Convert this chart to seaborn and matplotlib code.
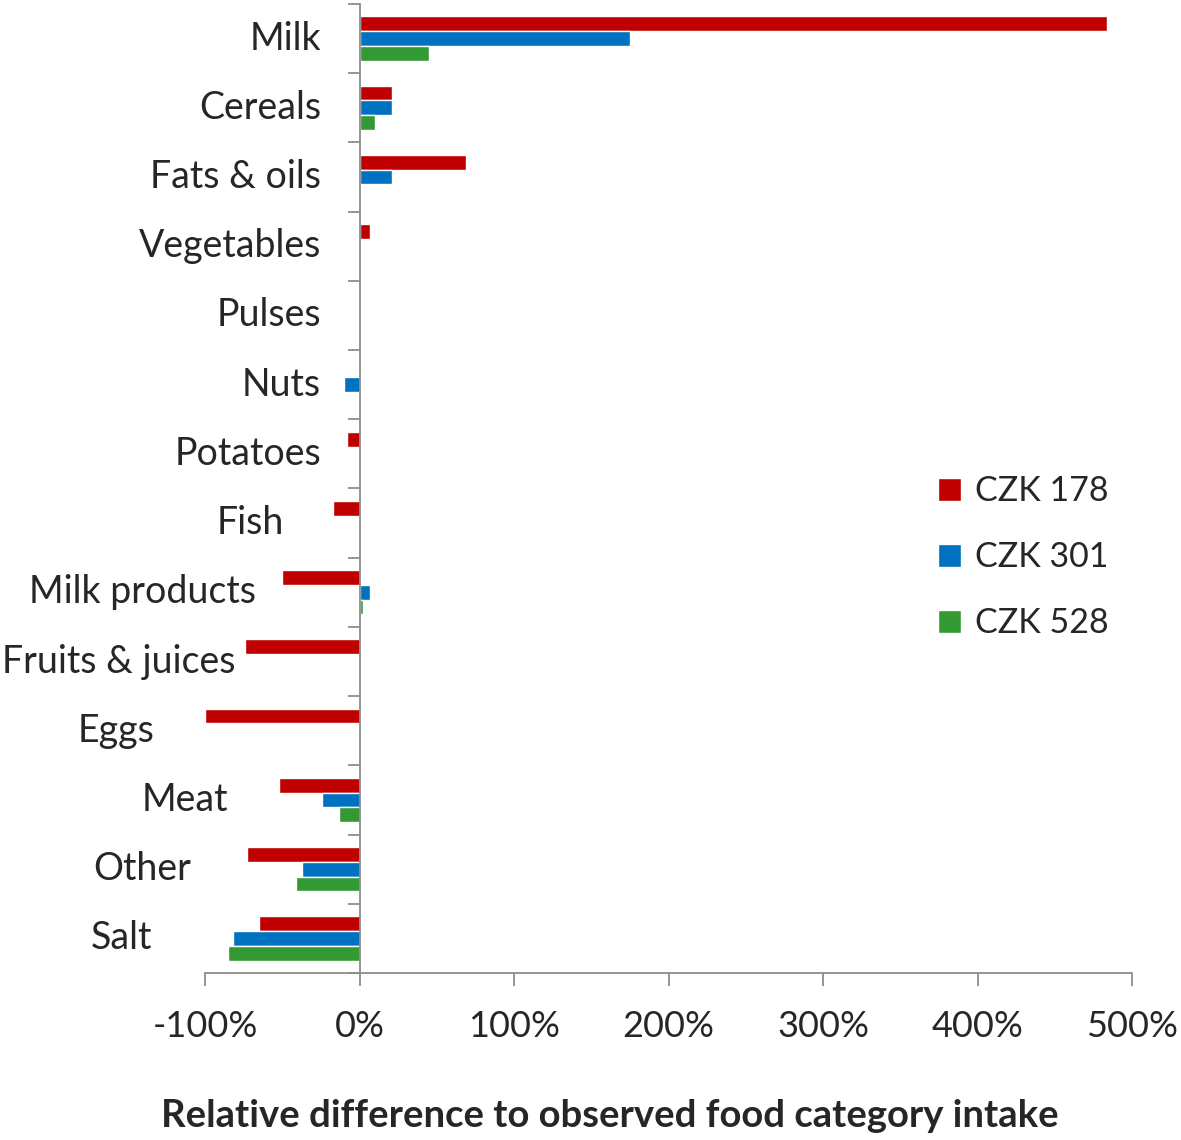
import pandas as pd
import matplotlib.pyplot as plt
import seaborn as sns
from matplotlib.ticker import FixedLocator, FuncFormatter


categories = [
    "Milk", "Cereals", "Fats & oils", "Vegetables", "Pulses", "Nuts",
    "Potatoes", "Fish", "Milk products", "Fruits & juices", "Eggs",
    "Meat", "Other", "Salt"
]

series_names = ["CZK 178", "CZK 301", "CZK 528"]

# relative difference, in percent
czk178 = [484, 21, 69, 7, 0, 0, -8, -17, -50, -74, -100, -52, -73, -65]
czk301 = [175, 21, 21, 0, 0, -10, 0, 0, 7, 0, 0, -24, -37, -82]
czk528 = [45, 10, 0, 0, 0, 0, 0, 0, 2, 0, 0, -13, -41, -85]

colors = ["#C00000", "#0070C0", "#339933"]

# where the right edge of each category label sits (data units, %)
label_x = [-25, -25, -25, -25, -25, -25, -25, -49, -67, -80, -133, -85, -109, -134]


df = pd.DataFrame({
    "category": categories * 3,
    "series": [s for s in series_names for _ in categories],
    "value": czk178 + czk301 + czk528,
})

sns.set_style("white")
plt.rcParams["font.family"] = ["Lato", "DejaVu Sans"]

fig = plt.figure(figsize=(11.81, 11.40), dpi=100)
ax = fig.add_axes([0.1736, 0.1465, 0.785, 0.85])

sns.barplot(
    data=df,
    y="category",
    x="value",
    hue="series",
    orient="h",
    order=categories,
    hue_order=series_names,
    palette=colors,
    width=0.64,
    saturation=1,
    errorbar=None,
    ax=ax,
)

ax.set_xlim(-100, 500)
ax.set_ylim(len(categories) - 0.5, -0.5)

grey = "#8c8c8c"

# axes lines
for side in ["top", "right"]:
    ax.spines[side].set_visible(False)
ax.spines["left"].set_position(("data", 0))
ax.spines["left"].set_color(grey)
ax.spines["bottom"].set_color(grey)
ax.spines["left"].set_linewidth(1.3)
ax.spines["bottom"].set_linewidth(1.3)

ax.xaxis.set_major_locator(FixedLocator(range(-100, 501, 100)))
ax.xaxis.set_major_formatter(FuncFormatter(lambda v, p: f"{v:.0f}%"))
ax.tick_params(
    axis="x", direction="out", length=9, width=1.3, color=grey,
    labelsize=26, pad=18, bottom=True
)

# category ticks at group boundaries, labels drawn by hand
ax.set_yticks([i - 0.5 for i in range(len(categories) + 1)])
ax.set_yticklabels([])
ax.tick_params(axis="y", direction="out", length=9, width=1.3, color=grey, left=True)

for i, name in enumerate(categories):
    ax.text(label_x[i], i, name, ha="right", va="center", fontsize=27)

ax.set_ylabel("")
ax.set_xlabel(
    "Relative difference to observed food category intake",
    fontsize=27.5,
    fontweight="bold",
)
ax.xaxis.set_label_coords(0.437, -0.13)

handles, labels = ax.get_legend_handles_labels()
ax.legend(
    handles,
    labels,
    loc="center left",
    bbox_to_anchor=(938 / 1181, 0.511),
    bbox_transform=fig.transFigure,
    frameon=False,
    fontsize=24.5,
    handlelength=0.68,
    handleheight=0.68,
    handletextpad=0.4,
    labelspacing=1.0,
    borderpad=0,
    borderaxespad=0,
)

fig.savefig("out.png", dpi=100)
plt.close()
